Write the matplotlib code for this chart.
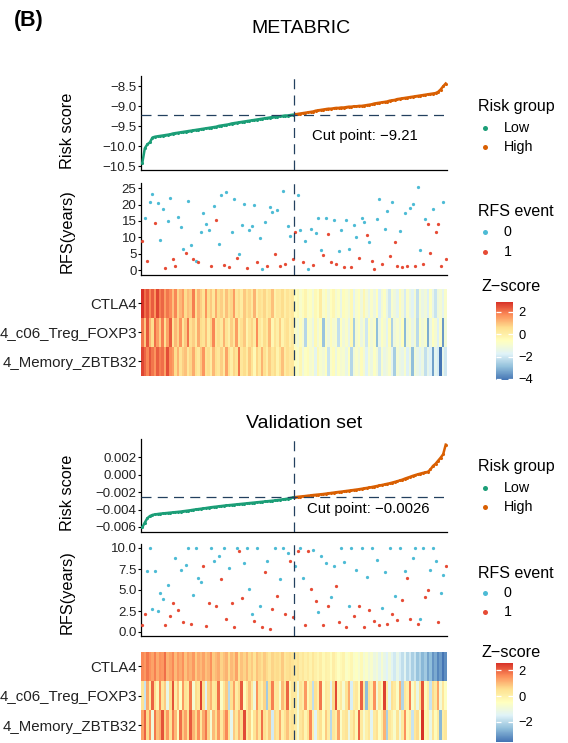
import numpy as np
import matplotlib
matplotlib.use('Agg')
import matplotlib.pyplot as plt
from matplotlib.colors import LinearSegmentedColormap, Normalize
from matplotlib.lines import Line2D
from matplotlib.ticker import FuncFormatter

plt.rcParams['font.family'] = ['Liberation Sans', 'DejaVu Sans']

# ---------------- data: METABRIC ----------------
meta_cut = -9.21
meta_risk = [
    -10.42, -10.05, -9.95, -9.90, -9.78, -9.76, -9.75, -9.74, -9.73, -9.72,
    -9.71, -9.70, -9.68, -9.67, -9.66, -9.65, -9.64, -9.63, -9.62, -9.61,
    -9.60, -9.59, -9.58, -9.57, -9.56, -9.55, -9.54, -9.53, -9.52, -9.51,
    -9.49, -9.48, -9.47, -9.46, -9.45, -9.43, -9.42, -9.41, -9.40, -9.39,
    -9.38, -9.37, -9.36, -9.35, -9.34, -9.33, -9.32, -9.31, -9.30, -9.29,
    -9.28, -9.27, -9.26, -9.26, -9.25, -9.24, -9.23, -9.23, -9.22, -9.21,
    -9.20, -9.19, -9.18, -9.17, -9.16, -9.15, -9.14, -9.13, -9.11, -9.10,
    -9.09, -9.08, -9.07, -9.06, -9.06, -9.05, -9.04, -9.04, -9.03, -9.03,
    -9.02, -9.01, -9.01, -9.00, -9.00, -8.99, -8.99, -8.98, -8.97, -8.96,
    -8.95, -8.93, -8.92, -8.91, -8.90, -8.89, -8.88, -8.86, -8.85, -8.84,
    -8.82, -8.81, -8.80, -8.79, -8.78, -8.77, -8.76, -8.75, -8.74, -8.73,
    -8.72, -8.71, -8.70, -8.69, -8.68, -8.67, -8.64, -8.58, -8.50, -8.43]
meta_rfs = [
    8.8, 15.9, 2.8, 20.9, 23.2, 14.3, 20.6, 9.1, 18.6, 0.5,
    14.9, 22.1, 3.3, 1.1, 16.1, 13.1, 6.5, 5.3, 21.0, 7.6,
    3.3, 2.8, 2.5, 11.5, 17.4, 14.1, 12.1, 1.3, 19.6, 15.4,
    8.0, 22.9, 1.5, 23.9, 0.8, 11.5, 21.7, 3.8, 4.8, 13.9,
    20.1, 0.5, 12.2, 13.5, 19.9, 2.4, 9.9, 0.2, 14.6, 1.1,
    19.4, 17.6, 5.0, 18.3, 1.1, 24.3, 1.8, 13.6, 10.5, 3.3,
    11.5, 22.9, 12.1, 2.5, 9.0, 0.2, 12.5, 1.5, 11.3, 15.9,
    6.1, 4.5, 15.9, 11.1, 2.5, 15.4, 1.8, 5.8, 12.1, 0.8,
    15.4, 6.3, 0.8, 13.7, 10.1, 3.8, 15.9, 14.6, 10.8, 8.6,
    2.8, 0.2, 15.7, 21.6, 1.8, 12.5, 18.0, 4.3, 20.9, 8.5,
    1.3, 11.8, 0.8, 17.4, 1.1, 18.9, 20.2, 1.1, 25.4, 6.1,
    1.8, 15.7, 14.1, 5.2, 18.6, 11.5, 14.1, 1.3, 20.9, 3.3]
meta_event = [
    1, 0, 1, 0, 0, 1, 0, 0, 0, 1,
    0, 0, 1, 1, 0, 0, 0, 1, 0, 0,
    1, 0, 1, 0, 0, 0, 0, 1, 0, 1,
    0, 0, 1, 0, 1, 0, 0, 1, 0, 0,
    0, 1, 0, 0, 0, 1, 0, 0, 0, 1,
    0, 0, 1, 0, 1, 0, 1, 0, 0, 1,
    1, 0, 0, 1, 0, 0, 0, 1, 0, 0,
    0, 1, 0, 1, 1, 0, 1, 0, 0, 1,
    0, 0, 1, 0, 0, 1, 0, 0, 1, 0,
    1, 1, 0, 0, 1, 0, 0, 1, 0, 1,
    1, 0, 1, 0, 1, 0, 0, 1, 0, 0,
    1, 0, 1, 1, 0, 1, 1, 1, 0, 1]
meta_ctla4 = [
    2.9, 2.1, 2.5, 1.8, 2.3, 1.6, 2.6, 1.9, 2.2, 1.5,
    2.0, 1.7, 1.0, 1.8, 0.7, 1.1, 1.5, 0.6, 1.0, 0.8,
    1.9, 0.5, 1.2, 0.8, 0.4, 1.6, 0.6, 0.9, 0.3, 1.3,
    0.6, 0.8, 0.2, 1.0, 0.5, 0.7, 1.5, 0.3, 0.6, 0.1,
    0.9, 0.4, 0.7, 0.2, 1.2, 0.0, 0.5, 0.3, 0.7, 0.1,
    0.4, 1.0, -0.1, 0.3, 0.2, 0.6, 0.0, 0.4, 0.1, 0.3,
    -0.6, -0.4, -0.9, -0.5, -0.2, -0.8, -0.6, -1.1, -0.4, -0.7,
    0.1, -0.9, -0.5, -1.2, -0.6, -0.3, -1.0, -0.7, -1.4, -0.5,
    -0.8, -1.1, -0.4, -1.6, -0.9, -0.6, -1.2, -0.3, -1.0, -1.5,
    -0.8, -1.3, -0.6, -1.8, -1.0, -0.7, -1.4, -2.0, -0.9, -1.2,
    -1.6, -0.5, -1.1, -1.9, -0.8, -1.3, -1.7, -1.0, -2.2, -0.9,
    -1.4, -1.1, -1.8, -0.7, -1.5, -2.1, -1.2, -1.0, -1.6, -0.8]
meta_treg = [
    2.0, 0.9, 2.4, 1.2, 0.6, 2.1, 1.5, 0.8, 1.9, 0.5,
    1.4, 2.3, 0.4, 1.1, 0.7, 1.6, 0.3, 0.9, 2.0, 0.5,
    0.8, 0.2, 1.3, 0.6, 0.4, 1.0, 0.1, 0.7, 1.8, 0.3,
    0.6, 0.2, 1.2, 0.4, 0.0, 0.8, 0.3, 1.5, 0.1, 0.5,
    0.9, -0.2, 0.4, 0.7, 0.1, 1.7, 0.3, -0.1, 0.6, 0.2,
    1.1, -0.3, 0.4, 0.0, 0.8, -0.2, 0.3, 0.5, -0.1, 0.2,
    -0.8, -1.2, -0.5, -1.0, -2.4, -0.7, -0.9, -1.4, -0.4, -1.1,
    -0.6, -2.8, -0.8, -1.3, -0.5, -1.0, -0.9, -2.2, -0.6, -1.2,
    -0.8, -1.5, -0.4, -2.6, -1.0, -0.7, -1.3, -0.9, -2.0, -0.6,
    -1.1, -0.8, -2.9, -1.4, -0.7, -1.0, -1.6, -0.5, -2.5, -1.2,
    -0.9, -1.3, -0.6, -3.0, -1.1, -0.8, -1.5, -1.0, -2.3, -0.7,
    -1.2, -0.9, -3.2, -1.4, -0.6, -1.0, -1.8, -0.8, -3.5, -1.1]
meta_mem = [
    2.6, 2.2, 1.8, 2.4, 2.0, 1.6, 2.3, 1.9, 2.1, 1.4,
    2.5, 1.7, 1.5, 0.6, 1.2, 0.4, 0.8, 1.0, 0.3, 0.7,
    1.3, 0.5, 0.2, 0.9, 1.6, 0.4, 0.6, 0.1, 1.1, 0.5,
    0.3, 0.8, 0.2, 1.4, 0.5, 0.0, 0.7, 0.4, 2.0, 0.3,
    0.6, 0.1, 0.9, 0.4, -0.4, 0.7, 0.2, 1.2, 0.5, 0.0,
    0.8, 0.3, 0.6, -0.2, 0.4, 1.0, 0.1, 0.5, 0.2, 0.3,
    -0.6, -0.9, -0.3, -1.2, -0.7, -0.5, -1.0, -0.8, -1.6, -0.4,
    -0.9, -1.1, -0.6, -2.1, -0.8, -0.5, -1.3, -0.7, -1.0, -0.9,
    -1.4, -0.6, -2.4, -1.1, -0.8, -1.2, -0.5, -1.0, -1.7, -0.9,
    -1.3, -0.7, -1.1, -2.0, -0.9, -1.4, -1.2, -0.8, -1.6, -2.6,
    -1.0, -1.3, -1.5, -0.9, -1.8, -1.2, -2.9, -1.1, -1.4, -1.7,
    -1.3, -2.2, -1.5, -1.8, -3.4, -1.6, -1.9, -4.1, -1.5, -2.0]

# ---------------- data: validation set ----------------
val_cut = -0.0026
val_risk = [
    -0.00605, -0.00550, -0.00500, -0.00475, -0.00462, -0.00456, -0.00452, -0.00448, -0.00445, -0.00442,
    -0.00439, -0.00436, -0.00433, -0.00430, -0.00427, -0.00424, -0.00420, -0.00416, -0.00412, -0.00408,
    -0.00403, -0.00399, -0.00395, -0.00391, -0.00387, -0.00383, -0.00378, -0.00374, -0.00370, -0.00367,
    -0.00363, -0.00360, -0.00356, -0.00353, -0.00350, -0.00347, -0.00344, -0.00341, -0.00338, -0.00335,
    -0.00332, -0.00329, -0.00326, -0.00323, -0.00320, -0.00317, -0.00314, -0.00311, -0.00308, -0.00305,
    -0.00302, -0.00299, -0.00296, -0.00292, -0.00288, -0.00284, -0.00280, -0.00275, -0.00268, -0.00262,
    -0.00258, -0.00254, -0.00251, -0.00248, -0.00245, -0.00241, -0.00238, -0.00234, -0.00231, -0.00228,
    -0.00225, -0.00222, -0.00218, -0.00214, -0.00210, -0.00206, -0.00202, -0.00198, -0.00195, -0.00191,
    -0.00187, -0.00183, -0.00179, -0.00175, -0.00171, -0.00167, -0.00162, -0.00157, -0.00152, -0.00147,
    -0.00142, -0.00136, -0.00130, -0.00124, -0.00118, -0.00112, -0.00105, -0.00099, -0.00091, -0.00083,
    -0.00075, -0.00066, -0.00057, -0.00045, -0.00035, -0.00025, -0.00014, -0.00005, 0.00004, 0.00012,
    0.00020, 0.00027, 0.00033, 0.00060, 0.00100, 0.00125, 0.00160, 0.00195, 0.00235, 0.00345]
val_rfs = [
    0.8, 2.2, 7.3, 10.0, 2.7, 7.3, 2.5, 4.7, 3.9, 0.8,
    5.6, 1.9, 3.4, 8.8, 2.6, 7.4, 1.2, 8.0, 10.0, 0.9,
    4.4, 10.0, 6.4, 5.9, 7.8, 0.7, 3.4, 10.0, 8.5, 3.1,
    9.0, 6.3, 10.0, 1.6, 7.6, 3.5, 0.6, 10.0, 9.6, 4.1,
    8.2, 10.0, 5.1, 2.1, 1.3, 10.0, 3.1, 0.6, 7.1, 8.4,
    0.3, 2.7, 10.0, 4.3, 6.3, 10.0, 2.2, 9.4, 8.5, 1.8,
    7.9, 9.7, 10.0, 6.4, 0.8, 9.6, 5.1, 9.8, 3.7, 2.4,
    9.1, 0.8, 8.2, 3.1, 4.2, 7.8, 5.5, 1.2, 10.0, 8.3,
    0.6, 3.1, 10.0, 1.9, 7.4, 3.1, 10.0, 0.6, 6.5, 2.6,
    10.0, 1.3, 8.6, 0.8, 2.9, 7.2, 1.0, 10.0, 2.1, 4.3,
    1.4, 10.0, 3.8, 7.3, 6.4, 1.6, 8.8, 10.0, 0.9, 1.6,
    10.0, 4.2, 5.0, 7.4, 10.0, 8.5, 1.2, 4.7, 6.8, 7.8]
val_event = [
    1, 1, 0, 0, 0, 0, 0, 0, 0, 1,
    0, 1, 1, 0, 1, 0, 1, 0, 0, 1,
    0, 0, 0, 0, 1, 1, 1, 0, 0, 1,
    0, 1, 0, 1, 0, 1, 1, 0, 1, 1,
    0, 0, 0, 0, 1, 0, 0, 1, 1, 0,
    1, 1, 0, 1, 0, 0, 1, 0, 1, 1,
    0, 1, 0, 0, 1, 1, 1, 0, 1, 0,
    0, 1, 0, 1, 0, 0, 1, 1, 0, 0,
    1, 0, 0, 1, 0, 1, 0, 1, 0, 1,
    0, 1, 0, 1, 0, 0, 1, 0, 1, 0,
    1, 0, 1, 0, 1, 1, 0, 0, 1, 0,
    0, 1, 1, 0, 0, 0, 1, 0, 0, 1]
val_ctla4 = [
    1.6, 1.4, 1.8, 1.5, 1.3, 1.7, 1.2, 1.5, 1.4, 1.9,
    1.1, 1.3, 1.6, 1.0, 1.4, 1.2, 1.5, 0.9, 1.3, 1.1,
    1.4, 0.8, 1.2, 1.0, 1.3, 0.9, 1.1, 1.5, 0.8, 1.0,
    1.2, 0.7, 0.9, 1.1, 0.6, 1.0, 0.8, 1.3, 0.5, 0.9,
    0.7, 1.0, 0.6, 0.8, 0.4, 0.9, 0.7, 0.5, 0.8, 0.6,
    0.3, 0.7, 0.5, 0.6, 0.4, 0.8, 0.3, 0.5, 0.6, 0.4,
    0.2, 0.4, 0.1, 0.3, 0.0, 0.2, -0.1, 0.3, 0.0, -0.2,
    0.1, -0.3, 0.0, -0.1, -0.4, 0.1, -0.2, -0.5, -0.3, -0.1,
    -0.6, -0.4, -0.2, -0.7, -0.5, -0.8, -0.3, -0.9, -0.6, -1.0,
    -0.7, -1.1, -0.9, -1.3, -0.8, -1.2, -1.5, -1.0, -1.4, -1.7,
    -1.2, -1.6, -1.9, -1.4, -2.0, -1.7, -2.2, -1.8, -2.4, -2.1,
    -2.6, -2.3, -2.9, -2.5, -3.1, -2.8, -3.3, -3.0, -3.55, -3.2]
val_treg = [
    0.4, -1.8, 1.2, 0.2, 2.0, 0.5, -0.3, 1.6, 0.3, 0.8,
    -1.2, 0.6, 2.2, 0.1, 0.9, -0.5, 1.4, 0.4, 0.2, 1.8,
    -0.8, 0.6, 0.3, 2.4, 0.5, -1.5, 0.7, 1.1, 0.2, 0.4,
    1.9, -0.6, 0.3, 0.8, -2.0, 0.5, 1.3, 0.1, 0.6, 2.1,
    -0.4, 0.3, 0.9, 0.2, -1.0, 1.5, 0.4, 0.0, 0.7, -2.3,
    0.5, 1.7, 0.2, 0.3, -0.7, 1.0, 0.4, 2.0, -0.2, 0.3,
    0.2, -1.1, 0.4, 0.1, 1.4, -0.3, 0.2, -1.9, 0.5, 0.0,
    1.8, -0.5, 0.3, 0.1, -1.3, 0.6, 2.3, -0.2, 0.2, -0.8,
    0.4, 1.2, -1.6, 0.1, 0.3, -0.4, 2.0, 0.2, -2.5, 0.4,
    0.0, 1.5, -0.9, 0.3, -0.3, 2.4, 0.1, -1.4, 0.5, 0.2,
    -0.6, 1.1, -2.1, 0.3, 0.0, 1.7, -0.7, 0.2, -1.2, 0.4,
    2.2, -0.4, 0.1, -1.8, 0.6, 0.2, 1.3, -0.9, 0.3, -0.5]
val_mem = [
    1.3, 2.0, 0.6, 1.5, -1.0, 1.8, 0.9, 1.2, 2.2, 0.7,
    1.4, 0.4, 1.7, 1.0, -0.4, 1.9, 0.8, 1.3, 0.5, 2.1,
    1.1, 0.6, 1.5, 0.3, 1.2, 1.8, 0.7, -0.8, 1.0, 0.5,
    1.4, 0.2, 0.9, 1.6, 0.4, -1.3, 0.8, 0.3, 1.1, 0.6,
    2.3, 0.2, 0.7, -0.5, 0.4, 1.0, 0.3, 1.9, 0.5, 0.1,
    0.8, -1.7, 0.6, 0.3, 1.2, 0.0, 0.5, 0.9, 0.2, 0.4,
    0.1, -0.9, 0.3, 0.6, -0.2, 0.4, 1.6, 0.0, -1.5, 0.2,
    0.5, -0.4, 0.8, 0.1, -2.0, 0.3, 0.0, 1.3, -0.6, 0.2,
    0.4, -1.1, 0.1, 0.6, -0.3, 2.0, 0.2, -0.8, 0.0, 0.3,
    -1.4, 0.2, 0.5, -0.5, 0.1, 1.1, -2.2, 0.3, 0.0, -0.7,
    0.4, -1.0, 0.2, 1.5, -0.3, 0.1, -1.8, 0.3, 0.6, -0.6,
    2.6, -0.2, 0.0, -1.2, 0.4, -0.4, 0.2, -2.6, 0.1, 0.3]

gene_labels = ['CTLA4', '4_c06_Treg_FOXP3', '4_Memory_ZBTB32']
risk_groups = ['Low', 'High']
event_levels = ['0', '1']

# ---------------- style ----------------
W, H = 568, 743
GREEN, ORANGE = '#1B9E77', '#D95F02'
CYAN, RED = '#4DBBD5', '#E64B35'
DASH_C = '#23405F'
TXT = '#222222'
cmap = LinearSegmentedColormap.from_list(
    'rdylbu7', ['#4575B4', '#91BFDB', '#E0F3F8', '#FFFFBF', '#FEE090', '#FC8D59', '#D73027'])


def box(x0, y0, x1, y1):
    return [x0 / W, 1 - y1 / H, (x1 - x0) / W, (y1 - y0) / H]


def minus(s):
    return s.replace('-', '\u2212')


def dashed(ax, orient, v):
    kw = dict(color=DASH_C, lw=0.9, ls=(0, (8, 5)), zorder=4)
    if orient == 'v':
        ax.axvline(v, **kw)
    else:
        ax.axhline(v, **kw)


def legend(fig, title, labels, colors, ys):
    fig.text(478 / W, 1 - ys[0] / H, title, fontsize=11.5, va='center', ha='left')
    for lab, c, y in zip(labels, colors, ys[1:]):
        fig.add_artist(Line2D([485 / W], [1 - y / H], marker='o', ms=3.6, ls='none',
                              color=c, mec='none', transform=fig.transFigure))
        fig.text(504 / W, 1 - y / H, lab, fontsize=10.3, va='center', ha='left')


def style_line_ax(ax):
    for s in ['top', 'right']:
        ax.spines[s].set_visible(False)
    for s in ['left', 'bottom']:
        ax.spines[s].set_linewidth(0.9)
    ax.set_xticks([])
    ax.tick_params(axis='y', length=2.5, width=0.8, pad=0.8, labelsize=9.5, labelcolor=TXT)


def draw(fig, title, tx, ty, risk, cut, rfs, event, heat, lay):
    risk = np.array(risk)
    rfs = np.array(rfs)
    event = np.array(event)
    Z = np.array(heat)
    n = len(risk)
    x = np.arange(n)
    low = risk <= cut
    n_low = int(low.sum())

    fig.text(tx / W, 1 - ty / H, title, fontsize=14, ha='center', va='center')

    # risk score
    ax = fig.add_axes(box(*lay['risk']))
    for m, c in [(low, GREEN), (~low, ORANGE)]:
        ax.plot(x[m], risk[m], color=c, lw=1.8, zorder=3)
        ax.scatter(x[m], risk[m], s=5, color=c, lw=0, zorder=3)
    dashed(ax, 'v', n_low - 0.5)
    dashed(ax, 'h', cut)
    ax.set_xlim(-0.5, n - 0.5)
    ax.set_ylim(*lay['risk_ylim'])
    ax.set_yticks(lay['risk_ticks'])
    ax.yaxis.set_major_formatter(FuncFormatter(lambda v, _: minus(lay['risk_fmt'] % v)))
    style_line_ax(ax)
    ax.set_ylabel('Risk score', fontsize=11.7)
    ax.yaxis.set_label_coords(-0.216, 0.42)
    ax.text(lay['cut_text'][0], lay['cut_text'][1], minus('Cut point: %s' % cut),
            transform=ax.transAxes, fontsize=10.7, va='center', ha='left')

    # RFS scatter
    ax = fig.add_axes(box(*lay['rfs']))
    for ev, c in [(0, CYAN), (1, RED)]:
        m = event == ev
        ax.scatter(x[m], rfs[m], s=5.5, color=c, lw=0, zorder=3)
    dashed(ax, 'v', n_low - 0.5)
    ax.set_xlim(-0.5, n - 0.5)
    ax.set_ylim(*lay['rfs_ylim'])
    ax.set_yticks(lay['rfs_ticks'])
    ax.yaxis.set_major_formatter(FuncFormatter(lambda v, _: lay['rfs_fmt'] % v))
    style_line_ax(ax)
    ax.set_ylabel('RFS(years)', fontsize=11.7)
    ax.yaxis.set_label_coords(-0.216, 0.48)

    # heatmap
    ax = fig.add_axes(box(*lay['heat']))
    norm = Normalize(vmin=Z.min(), vmax=Z.max())
    im = ax.imshow(Z, aspect='auto', cmap=cmap, norm=norm, interpolation='nearest',
                   extent=(-0.5, n - 0.5, len(Z) - 0.5, -0.5))
    dashed(ax, 'v', n_low - 0.5)
    ax.set_xlim(-0.5, n - 0.5)
    ax.set_xticks([])
    ax.set_yticks(range(len(Z)))
    ax.set_yticklabels(gene_labels, fontsize=10.8, color=TXT)
    ax.tick_params(axis='y', length=2, width=0.8, pad=1)
    for s in ax.spines.values():
        s.set_visible(False)

    cax = fig.add_axes(box(*lay['cb']))
    cb = fig.colorbar(im, cax=cax)
    cb.outline.set_visible(False)
    cb.set_ticks(lay['cb_ticks'])
    cb.ax.yaxis.set_major_formatter(FuncFormatter(lambda v, _: minus('%g' % v)))
    cb.ax.minorticks_off()
    cb.ax.tick_params(axis='y', direction='in', length=3.5, width=0.9, color='white',
                      left=True, right=True, labelsize=9.3, pad=4)
    fig.text(511 / W, 1 - lay['z_y'] / H, 'Z\u2212score', fontsize=11.7, ha='center', va='center')

    legend(fig, 'Risk group', risk_groups, [GREEN, ORANGE], lay['risk_leg'])
    legend(fig, 'RFS event', event_levels, [CYAN, RED], lay['rfs_leg'])


fig = plt.figure(figsize=(W / 100, H / 100), dpi=100)
fig.text(14 / W, 1 - 20.5 / H, '(B)', fontsize=15.5, fontweight='bold', ha='left', va='center')

meta_lay = dict(risk=(141, 76.3, 447, 170.3), rfs=(141, 183.4, 447, 275),
                heat=(141, 289, 447, 375.7), cb=(496, 301.7, 513, 380),
                risk_ylim=(-10.6, -8.25), risk_ticks=[-10.5, -10.0, -9.5, -9.0, -8.5], risk_fmt='%.1f',
                rfs_ylim=(-1.53, 26.5), rfs_ticks=[0, 5, 10, 15, 20, 25], rfs_fmt='%d',
                cb_ticks=[2, 0, -2, -4], z_y=287, cut_text=(0.56, 0.365),
                risk_leg=(107, 128, 147), rfs_leg=(212, 232, 252))
val_lay = dict(risk=(141, 439, 447, 531.7), rfs=(141, 543.8, 447, 636.2),
               heat=(141, 651.7, 447, 740), cb=(496, 662.7, 512.5, 741.7),
               risk_ylim=(-0.00655, 0.0041), risk_ticks=[-0.006, -0.004, -0.002, 0.0, 0.002],
               risk_fmt='%.3f',
               rfs_ylim=(-0.5, 10.5), rfs_ticks=[0, 2.5, 5, 7.5, 10], rfs_fmt='%.1f',
               cb_ticks=[2, 0, -2], z_y=652.7, cut_text=(0.543, 0.245),
               risk_leg=(467, 488, 507), rfs_leg=(573, 593, 612))

draw(fig, 'METABRIC', 301, 28.3, meta_risk, meta_cut, meta_rfs, meta_event,
     [meta_ctla4, meta_treg, meta_mem], meta_lay)
draw(fig, 'Validation set', 304, 423, val_risk, val_cut, val_rfs, val_event,
     [val_ctla4, val_treg, val_mem], val_lay)

fig.savefig('out.png', dpi=100)
